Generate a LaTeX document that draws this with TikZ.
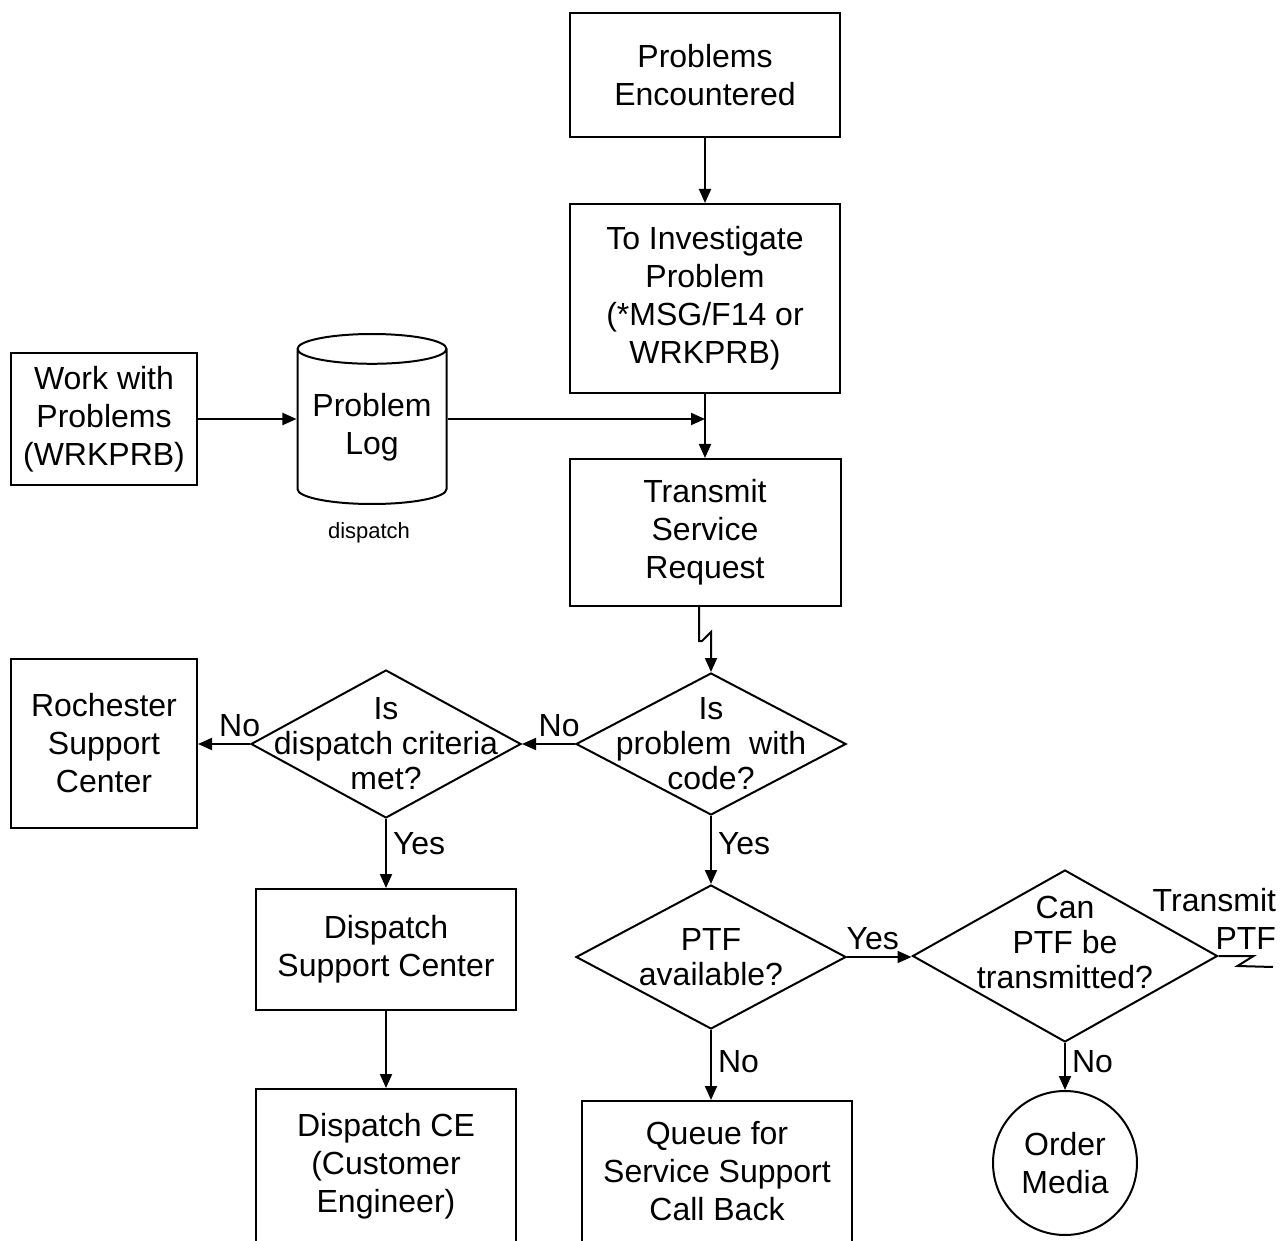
\documentclass[tikz,border=0pt]{standalone}
\usepackage{fontspec}
\setmainfont{Liberation Sans}
\usetikzlibrary{shapes.geometric,arrows.meta,positioning}

\begin{document}
\begin{tikzpicture}[x=0.5pt,y=-0.5pt,line width=1pt,>={Triangle[length=7pt,width=6pt]}]
	\tikzstyle{every node}=[font=\fontsize{16}{19}\selectfont]
	\tikzstyle{box}=[draw,rectangle,align=center,inner sep=0pt]
	\tikzstyle{decision}=[draw,diamond,minimum width=135pt,minimum height=71pt,inner sep=0pt]
	\tikzstyle{dtext}=[align=center,font=\fontsize{16}{17.5}\selectfont]
	\tikzstyle{flow}=[->]
	\tikzstyle{answer}=[inner sep=3pt]

	\path[use as bounding box] (0,0) rectangle (1281,1241);
	\clip (0,0) rectangle (1281,1241);

	% Draw the main column
	\node[box,minimum width=135pt,minimum height=62pt] (enc) at (705,75) {Problems\\Encountered};
	\node[box,minimum width=135pt,minimum height=94.5pt] (inv) at (705,298.5) {To Investigate\\Problem\\(*MSG/F14 or\\WRKPRB)};
	\node[box,minimum width=135.5pt,minimum height=73.5pt] (tsr) at (705,532.5) {Transmit\\Service\\Request};

	% Draw the problem log input
	\node[box,minimum width=93pt,minimum height=66pt] (wrk) at (104,419) {Work with\\Problems\\(WRKPRB)};
	\node[draw,cylinder,shape border rotate=90,aspect=0.25,minimum width=74.5pt,minimum height=85pt,align=center,inner sep=0pt,anchor=shape center] (log) at (372,419) {Problem\\Log};
	\node[font=\fontsize{11}{13}\selectfont] (lbl) at (369,533) {dispatch};
	\coordinate (join) at (inv.south |- wrk.east);

	% Draw the decisions
	\node[decision,label={[dtext]center:Is\\problem\ \ with\\code?}] (code) at (711,744) {};
	\node[decision,minimum height=74pt,label={[dtext]center:Is\\dispatch criteria\\met?}] (crit) at (386,744) {};
	\node[decision,minimum height=72pt,label={[dtext]center:PTF\\available?}] (ptf) at (711,957) {};
	\node[decision,minimum width=152.5pt,minimum height=86pt,label={[dtext,yshift=7pt]center:Can\\PTF be\\transmitted?}] (can) at (1065,956) {};

	% Draw the end points
	\node[box,minimum width=93pt,minimum height=84.5pt] (roch) at (104,743) {Rochester\\Support\\Center};
	\node[box,minimum width=130pt,minimum height=60.5pt] (dsc) at (386,949.5) {Dispatch\\Support Center};
	\node[box,minimum width=130pt,minimum height=100pt,anchor=north,
		label={[align=center,anchor=north,yshift=-9pt]north:Dispatch CE\\(Customer\\Engineer)}] (dce) at (386,1088) {};
	\node[box,minimum width=135pt,minimum height=100pt,anchor=north,
		label={[align=center,anchor=north,yshift=-7pt]north:Queue for\\Service Support\\Call Back}] (que) at (717,1100) {};
	\node[draw,circle,minimum size=72pt,inner sep=0pt,align=center] (ord) at (1065,1163) {Order\\Media};
	\node[align=right,anchor=east,inner sep=0pt] (tpl) at (1277,919) {Transmit\\PTF};
	\coordinate (xmit) at (1273,967);

	% Connect the nodes
	\draw[flow] (enc) -- (inv);
	\draw[flow] (wrk.east) -- (wrk.east -| log.west);
	\draw[flow] (wrk.east -| log.east) -- (join);
	\draw[flow] (inv) -- (tsr);
	\draw[flow] ([xshift=-3pt]tsr.south) -- ++(0,34) -- ++(3,0) -- ([yshift=20pt]code.north) -- (code.north);
	\draw[flow] (code.west) -- node[answer,above,pos=0.3] {No} (crit.east);
	\draw[flow] (crit.west) -- node[answer,above,pos=0.2] {No} (crit.west -| roch.east);
	\draw[flow] (crit.south) -- node[answer,right,pos=0.35] {Yes} (dsc.north);
	\draw[flow] (dsc) -- (dce);
	\draw[flow] (code.south) -- node[answer,right,pos=0.4] {Yes} (ptf.north);
	\draw[flow] (ptf.east) -- node[answer,above,pos=0.4] {Yes} (ptf.east -| can.west);
	\draw[flow] (ptf.south) -- node[answer,right,pos=0.45] {No} (ptf.south |- que.north);
	\draw[flow] (can.south) -- node[answer,right,pos=0.4] {No} (ord.north);
	\draw (can.east) -- ++(35,0) -- ++(-16,10) -- (xmit);

\end{tikzpicture}
\end{document}
